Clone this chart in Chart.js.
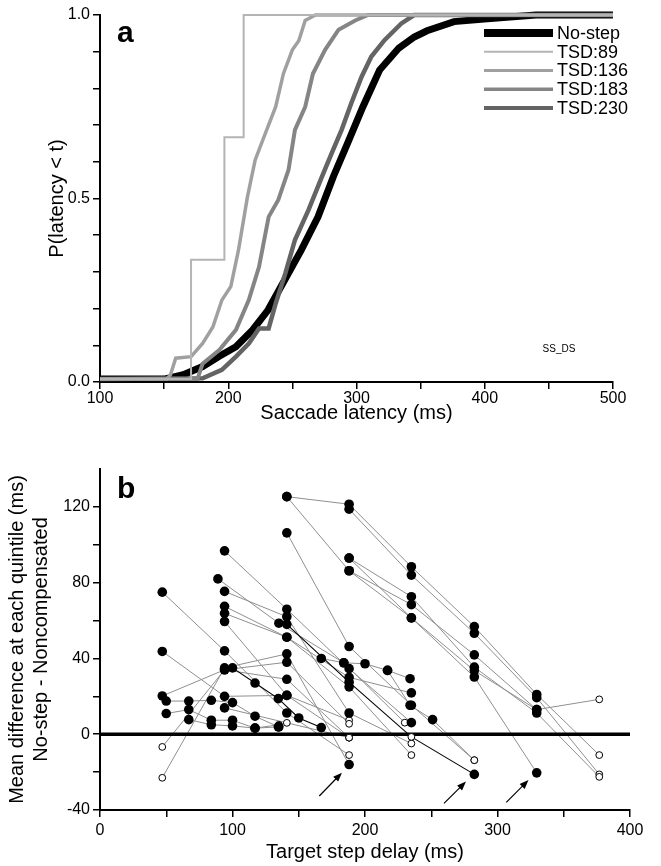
<!DOCTYPE html>
<html>
<head>
<meta charset="utf-8">
<script src="https://cdn.jsdelivr.net/npm/chart.js@4.4.1/dist/chart.umd.min.js"></script>
<style>
  html, body { margin: 0; padding: 0; background: #fff; }
  #wrap { position: relative; width: 661px; height: 866px; }
  #chartA { position: absolute; left: 0; top: 0; }
  #chartB { position: absolute; left: 0; top: 430px; }
</style>
</head>
<body>
<div id="wrap">
  <canvas id="chartA" width="661" height="430"></canvas>
  <canvas id="chartB" width="661" height="436"></canvas>
</div>
<script>
// ---- panel a : cumulative latency distributions ----
const latNoStep = [100, 150, 165, 180, 193, 206, 219, 231, 244, 257, 270, 282, 293, 305, 318, 333, 345, 355, 376, 402, 440, 500];
const pNoStep   = [0.008, 0.008, 0.02, 0.042, 0.07, 0.096, 0.142, 0.196, 0.278, 0.36, 0.45, 0.56, 0.65, 0.75, 0.85, 0.91, 0.94, 0.957, 0.982, 0.99, 1, 1];

const lat89 = [100, 171, 171, 197, 197, 212, 212, 500];
const p89   = [0.008, 0.008, 0.333, 0.333, 0.667, 0.667, 1, 1];

const lat136 = [100, 152, 155, 159, 171, 180, 188, 195, 202, 208, 215, 221, 229, 237, 243, 250, 255, 260, 268, 500];
const p136   = [0.008, 0.008, 0.02, 0.065, 0.069, 0.105, 0.15, 0.223, 0.26, 0.36, 0.505, 0.605, 0.678, 0.75, 0.84, 0.905, 0.93, 0.985, 1, 1];

const lat183 = [100, 176, 180, 193, 206, 216, 224, 231.5, 239, 247, 252, 260, 266, 275.5, 286, 299, 309, 500];
const p183   = [0.008, 0.008, 0.05, 0.087, 0.142, 0.223, 0.314, 0.45, 0.496, 0.578, 0.687, 0.75, 0.84, 0.905, 0.96, 0.985, 1, 1];

const lat230 = [100, 180, 195, 206, 216, 224, 231.5, 237, 244.5, 252, 262.6, 273, 280.6, 288.4, 296, 304, 311.6, 322, 335, 345, 500];
const p230   = [0.008, 0.01, 0.033, 0.069, 0.105, 0.146, 0.146, 0.214, 0.296, 0.387, 0.469, 0.559, 0.623, 0.687, 0.76, 0.832, 0.887, 0.932, 0.977, 1, 1];

// ---- panel b : no-step minus noncompensated, per session ----
const chainTsd = [
  [47, 94, 141, 188],
  [47, 94, 141, 188],
  [47, 94, 141, 188],
  [47, 94, 141, 188],
  [47, 94, 141, 188],
  [94, 141, 188, 235],
  [94, 141, 188, 235],
  [94, 141, 188, 235],
  [94, 141, 188, 235],
  [94, 141, 188],
  [94, 141, 188],
  [141, 188, 235, 282.5, 329.6, 376.8],
  [141, 188, 235, 282.5, 329.6, 376.8],
  [141, 188, 235, 282.5],
  [188, 235, 282.5, 329.6, 376.8],
  [188, 235, 282.5, 329.6, 376.8],
  [188, 235, 282.5, 329.6],
  [188, 235, 282.5, 329.6],
  [89, 135, 184, 230],
  [50, 67, 84, 100, 117, 134.6],
  [50, 67, 84, 100, 117, 135],
  [67, 84, 100, 117, 135],
  [167, 184, 200, 217, 234],
  [217, 234, 251, 282.5]
];
const chainDiff = [
  [75, 44, 11.2, -11],
  [43.7, 20, 20.5, 7.4],
  [20.2, 34, 29, -1.8],
  [-6.7, 34, 38, 5.5],
  [-23, 35, 42.4, -16],
  [96.8, 66, 34.6, 6.1],
  [75.4, 62, 11.2, -4.9],
  [67.5, 51.2, 25, -11],
  [63.8, 51.2, 30, 21.8],
  [59.5, 20.5, -1.8],
  [13.9, 6, -1.8],
  [125.4, 121.4, 88.4, 56.8, 21, -11],
  [125.4, 86.3, 68.4, 41.9, 13, 18.4],
  [106.3, 46.3, 15.3, -13.7],
  [118.8, 84, 53.3, 19.3, -21.2],
  [93, 72.6, 35.4, 11.2, -22.5],
  [86.3, 61.4, 30.2, -20.4],
  [93, 61.4, 33.6, 13],
  [82, 58.6, 37.7, 6.1],
  [17.5, 17.5, 17.9, 16.7, 9.5, 3.9],
  [10.9, 13, 7.4, 7.4, 3.2, 5],
  [7.7, 5, 4.4, 3.2, 3.9],
  [40, 37.7, 37.2, 33.7, 29.3],
  [33.7, 15.3, 7.7, -13.7]
];
// 1 = significant (filled), 0 = not significant (open)
const chainSig = [
  [1, 1, 1, 0], [1, 1, 1, 0], [1, 1, 1, 0], [0, 1, 1, 0], [0, 1, 1, 1],
  [1, 1, 1, 1], [1, 1, 1, 0], [1, 1, 1, 0], [1, 1, 1, 1], [1, 1, 0], [1, 0, 0],
  [1, 1, 1, 1, 1, 0], [1, 1, 1, 1, 1, 0], [1, 1, 1, 0], [1, 1, 1, 1, 0],
  [1, 1, 1, 1, 0], [1, 1, 1, 1], [1, 1, 1, 1], [1, 1, 1, 0],
  [1, 1, 1, 1, 1, 1], [1, 1, 1, 1, 1, 0], [1, 1, 1, 1, 1], [1, 1, 1, 1, 1], [1, 1, 1, 0]
];
// sessions drawn with a black line
const darkTsd  = [[100, 117, 134.6, 150, 167], [141, 188, 235, 282.5]];
const darkDiff = [[35, 27, 18.8, 8.6, 3.5], [58, 27.5, -1.4, -21.2]];
const darkSig  = [[1, 1, 1, 1, 1], [1, 1, 0, 1]];

const arrowTailTsd  = [165.5, 259.6, 306.6];
const arrowTailDiff = [-32.6, -36.5, -36];
const arrowHeadTsd  = [182.6, 276.2, 323.4];
const arrowHeadDiff = [-20.3, -25, -24.2];

// ---------------------------------------------------------------
const FONT = '"Liberation Sans", Arial, Helvetica, sans-serif';
Chart.defaults.font.family = FONT;
Chart.defaults.color = '#000';

function zip(xs, ys) {
  return xs.map((x, i) => ({ x: x, y: ys[i] }));
}

// free text (panel letters etc.)
const textPlugin = {
  id: 'freeText',
  afterDraw(chart, args, opts) {
    const ctx = chart.ctx;
    ctx.save();
    for (const t of opts.items || []) {
      ctx.font = t.font;
      ctx.fillStyle = '#000';
      ctx.textAlign = t.align || 'left';
      ctx.textBaseline = t.baseline || 'alphabetic';
      ctx.fillText(t.text, t.x, t.y);
    }
    ctx.restore();
  }
};

// legend of panel a, drawn inside the plot
const cdfLegend = {
  id: 'cdfLegend',
  afterDatasetsDraw(chart) {
    const ctx = chart.ctx;
    ctx.save();
    chart.data.datasets.forEach((ds, i) => {
      const y = 33 + i * 18.75;
      ctx.strokeStyle = ds.borderColor;
      ctx.lineWidth = ds.legendWidth;
      ctx.beginPath();
      ctx.moveTo(484, y);
      ctx.lineTo(553, y);
      ctx.stroke();
      ctx.fillStyle = '#000';
      ctx.font = '18px ' + FONT;
      ctx.textAlign = 'left';
      ctx.textBaseline = 'middle';
      ctx.fillText(ds.label, 557, y + 1);
    });
    ctx.restore();
  }
};

const cdfSets = [
  { label: 'No-step', data: zip(latNoStep, pNoStep), borderColor: '#000000', borderWidth: 7, legendWidth: 8, order: 5 },
  { label: 'TSD:89', data: zip(lat89, p89), borderColor: '#b4b4b4', borderWidth: 2, legendWidth: 2, order: 1 },
  { label: 'TSD:136', data: zip(lat136, p136), borderColor: '#a0a0a0', borderWidth: 3.5, legendWidth: 3, order: 2 },
  { label: 'TSD:183', data: zip(lat183, p183), borderColor: '#858585', borderWidth: 4, legendWidth: 3.5, order: 3 },
  { label: 'TSD:230', data: zip(lat230, p230), borderColor: '#646464', borderWidth: 4.5, legendWidth: 4, order: 4 }
];
cdfSets.forEach(ds => { ds.pointRadius = 0; ds.tension = 0; ds.fill = false; ds.clip = false; });

new Chart(document.getElementById('chartA'), {
  type: 'line',
  data: { datasets: cdfSets },
  plugins: [cdfLegend, textPlugin],
  options: {
    responsive: false,
    animation: false,
    layout: { padding: { top: 15, right: 48, left: 0, bottom: 0 } },
    plugins: {
      legend: { display: false },
      tooltip: { enabled: false },
      freeText: {
        items: [
          { text: 'a', x: 117, y: 42, font: 'bold 30px ' + FONT },
          { text: 'SS_DS', x: 559, y: 349, font: '10px ' + FONT, align: 'center', baseline: 'middle' }
        ]
      }
    },
    scales: {
      x: {
        type: 'linear', min: 100, max: 500,
        border: { color: '#000', width: 2 },
        grid: { drawOnChartArea: false, drawTicks: true, tickLength: 7, color: '#000', lineWidth: 1.5 },
        ticks: {
          stepSize: 50, autoSkip: false, maxRotation: 0, padding: 0, font: { size: 16 },
          callback: v => (v % 100 === 0 ? String(v) : '')
        },
        title: { display: true, text: 'Saccade latency (ms)', font: { size: 20 }, padding: { top: 0, bottom: 5 } },
        afterFit: s => { s.height = 48; }
      },
      y: {
        type: 'linear', min: 0, max: 1,
        border: { color: '#000', width: 2 },
        grid: { drawOnChartArea: false, drawTicks: true, tickLength: 7, color: '#000', lineWidth: 1.5 },
        ticks: {
          stepSize: 0.1, autoSkip: false, padding: 3, font: { size: 16 },
          callback: v => (Math.round(v * 10) % 5 === 0 ? v.toFixed(1) : '')
        },
        title: { display: true, text: 'P(latency < t)', font: { size: 20 }, padding: { top: 45, bottom: 0 } },
        afterFit: s => { s.width = 100; }
      }
    }
  }
});

// ---- panel b ----
const arrowPlugin = {
  id: 'arrows',
  afterDatasetsDraw(chart) {
    const ctx = chart.ctx;
    const xs = chart.scales.x, ys = chart.scales.y;
    ctx.save();
    ctx.strokeStyle = '#000';
    ctx.fillStyle = '#000';
    ctx.lineWidth = 1.2;
    for (let i = 0; i < arrowTailTsd.length; i++) {
      const x0 = xs.getPixelForValue(arrowTailTsd[i]), y0 = ys.getPixelForValue(arrowTailDiff[i]);
      const x1 = xs.getPixelForValue(arrowHeadTsd[i]), y1 = ys.getPixelForValue(arrowHeadDiff[i]);
      const a = Math.atan2(y1 - y0, x1 - x0);
      ctx.beginPath();
      ctx.moveTo(x0, y0);
      ctx.lineTo(x1 - 5 * Math.cos(a), y1 - 5 * Math.sin(a));
      ctx.stroke();
      ctx.beginPath();
      ctx.moveTo(x1, y1);
      ctx.lineTo(x1 - 9 * Math.cos(a) + 3.5 * Math.sin(a), y1 - 9 * Math.sin(a) - 3.5 * Math.cos(a));
      ctx.lineTo(x1 - 9 * Math.cos(a) - 3.5 * Math.sin(a), y1 - 9 * Math.sin(a) + 3.5 * Math.cos(a));
      ctx.closePath();
      ctx.fill();
    }
    ctx.restore();
  }
};

const lineSets = [];
const filledPts = [];
const openPts = [];

function addChains(tsds, diffs, sigs, color, width, order) {
  tsds.forEach((xs, i) => {
    lineSets.push({
      data: zip(xs, diffs[i]),
      showLine: true, borderColor: color, borderWidth: width,
      pointRadius: 0, order: order
    });
    xs.forEach((x, j) => {
      (sigs[i][j] ? filledPts : openPts).push({ x: x, y: diffs[i][j] });
    });
  });
}
addChains(chainTsd, chainDiff, chainSig, '#8f8f8f', 1, 4);
addChains(darkTsd, darkDiff, darkSig, '#000000', 1.1, 3);

const bSets = lineSets.concat([
  { data: [{ x: 0, y: 0 }, { x: 400, y: 0 }], showLine: true, borderColor: '#000', borderWidth: 3.5, pointRadius: 0, order: 2 },
  { data: openPts, showLine: false, pointRadius: 3.4, pointBorderWidth: 1, pointBorderColor: '#000', pointBackgroundColor: '#fff', order: 1 },
  { data: filledPts, showLine: false, pointRadius: 4.8, pointBorderWidth: 0, pointBackgroundColor: '#000', order: 0 }
]);

new Chart(document.getElementById('chartB'), {
  type: 'scatter',
  data: { datasets: bSets },
  plugins: [arrowPlugin, textPlugin],
  options: {
    responsive: false,
    animation: false,
    layout: { padding: { top: 39, right: 31, left: 0, bottom: 0 } },
    plugins: {
      legend: { display: false },
      tooltip: { enabled: false },
      freeText: { items: [{ text: 'b', x: 117, y: 68, font: 'bold 30px ' + FONT }] }
    },
    scales: {
      x: {
        type: 'linear', min: 0, max: 400,
        border: { color: '#000', width: 2 },
        grid: { drawOnChartArea: false, drawTicks: true, tickLength: 7, color: '#000', lineWidth: 1.5 },
        ticks: {
          stepSize: 50, autoSkip: false, maxRotation: 0, padding: 4, font: { size: 16 },
          callback: v => (v % 100 === 0 ? String(v) : '')
        },
        title: { display: true, text: 'Target step delay (ms)', font: { size: 20 }, padding: { top: 0, bottom: 2 } },
        afterFit: s => { s.height = 56; }
      },
      y: {
        type: 'linear', min: -40, max: 140,
        border: { color: '#000', width: 2 },
        grid: {
          drawOnChartArea: false, drawTicks: true, tickLength: 7, lineWidth: 1.5,
          color: c => (c.tick && c.tick.value === 140 ? 'rgba(0,0,0,0)' : '#000')
        },
        ticks: {
          stepSize: 20, autoSkip: false, padding: 3, font: { size: 16 },
          callback: v => (v % 40 === 0 && v !== 140 ? String(v) : '')
        },
        title: {
          display: true,
          text: ['Mean difference at each quintile (ms)', 'No-step - Noncompensated'],
          font: { size: 20, lineHeight: 1.18 }, padding: { top: 6, bottom: 0 }
        },
        afterFit: s => { s.width = 100; }
      }
    }
  }
});
</script>
</body>
</html>
